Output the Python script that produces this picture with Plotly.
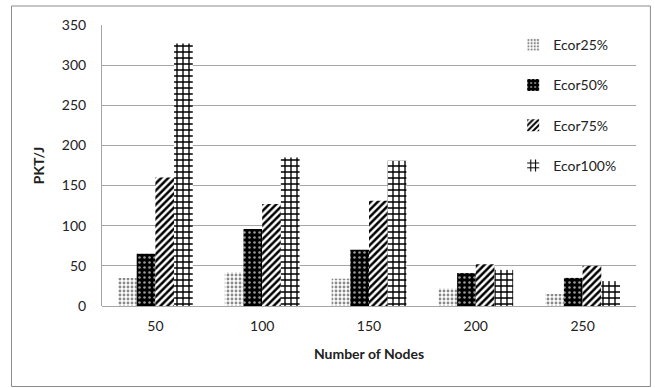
import plotly.graph_objects as go

categories = ["50", "100", "150", "200", "250"]
series_names = ["Ecor25%", "Ecor50%", "Ecor75%", "Ecor100%"]
ecor25 = [35, 42, 34, 22, 15]
ecor50 = [65, 96, 70, 41, 35]
ecor75 = [160, 127, 131, 52, 50]
ecor100 = [327, 185, 181, 45, 31]
y_ticks = [0, 50, 100, 150, 200, 250, 300, 350]

values = [ecor25, ecor50, ecor75, ecor100]
patterns = [
    dict(shape=".", fgcolor="#8a8a8a", bgcolor="white", size=4, solidity=0.4, fillmode="replace"),
    dict(shape=".", fgcolor="#9a9a9a", bgcolor="black", size=5, solidity=0.2, fillmode="replace"),
    dict(shape="/", fgcolor="black", bgcolor="white", size=5, solidity=0.5, fillmode="replace"),
    dict(shape="+", fgcolor="black", bgcolor="white", size=6, solidity=0.4, fillmode="replace"),
]

fig = go.Figure()
for i, (name, vals, pat) in enumerate(zip(series_names, values, patterns)):
    fig.add_trace(go.Bar(
        x=categories, y=vals, name=name,
        legendgroup=name,
        marker=dict(color="white" if i != 1 else "black", pattern=pat,
                    line=dict(width=0)),
    ))

font_family = "Lato, 'Open Sans', sans-serif"
fig.update_layout(
    width=655, height=388,
    margin=dict(l=102, r=19, t=25, b=82),
    paper_bgcolor="white", plot_bgcolor="white",
    barmode="group", bargap=0.3, bargroupgap=0,
    font=dict(family=font_family, size=14, color="#222"),
    showlegend=True,
    legend=dict(x=0.77, y=0.985, xanchor="left", yanchor="top",
                bgcolor="rgba(0,0,0,0)", tracegroupgap=19,
                font=dict(size=14, family=font_family, color="#222"),
                itemwidth=30),
    xaxis=dict(
        title=dict(text="<b>Number of Nodes</b>", font=dict(size=14), standoff=16),
        showline=False, ticks="", tickfont=dict(size=14),
        ticklabelstandoff=10,
    ),
    yaxis=dict(
        title=dict(text="<b>PKT/J</b>", font=dict(size=14), standoff=13),
        range=[0, 350], tickvals=y_ticks,
        showgrid=True, gridcolor="#a6a6a6", gridwidth=1,
        showline=True, linecolor="#a6a6a6", linewidth=1,
        zeroline=True, zerolinecolor="#a6a6a6", zerolinewidth=1,
        ticks="", tickfont=dict(size=14), ticklabelstandoff=12,
    ),
)

fig.add_shape(type="rect", xref="paper", yref="paper",
              x0=-0.1695, x1=1.027, y0=-0.2865, y1=1.0676,
              line=dict(color="#8c8c8c", width=1), fillcolor="rgba(0,0,0,0)",
              layer="below")

fig.write_html("out.html")
